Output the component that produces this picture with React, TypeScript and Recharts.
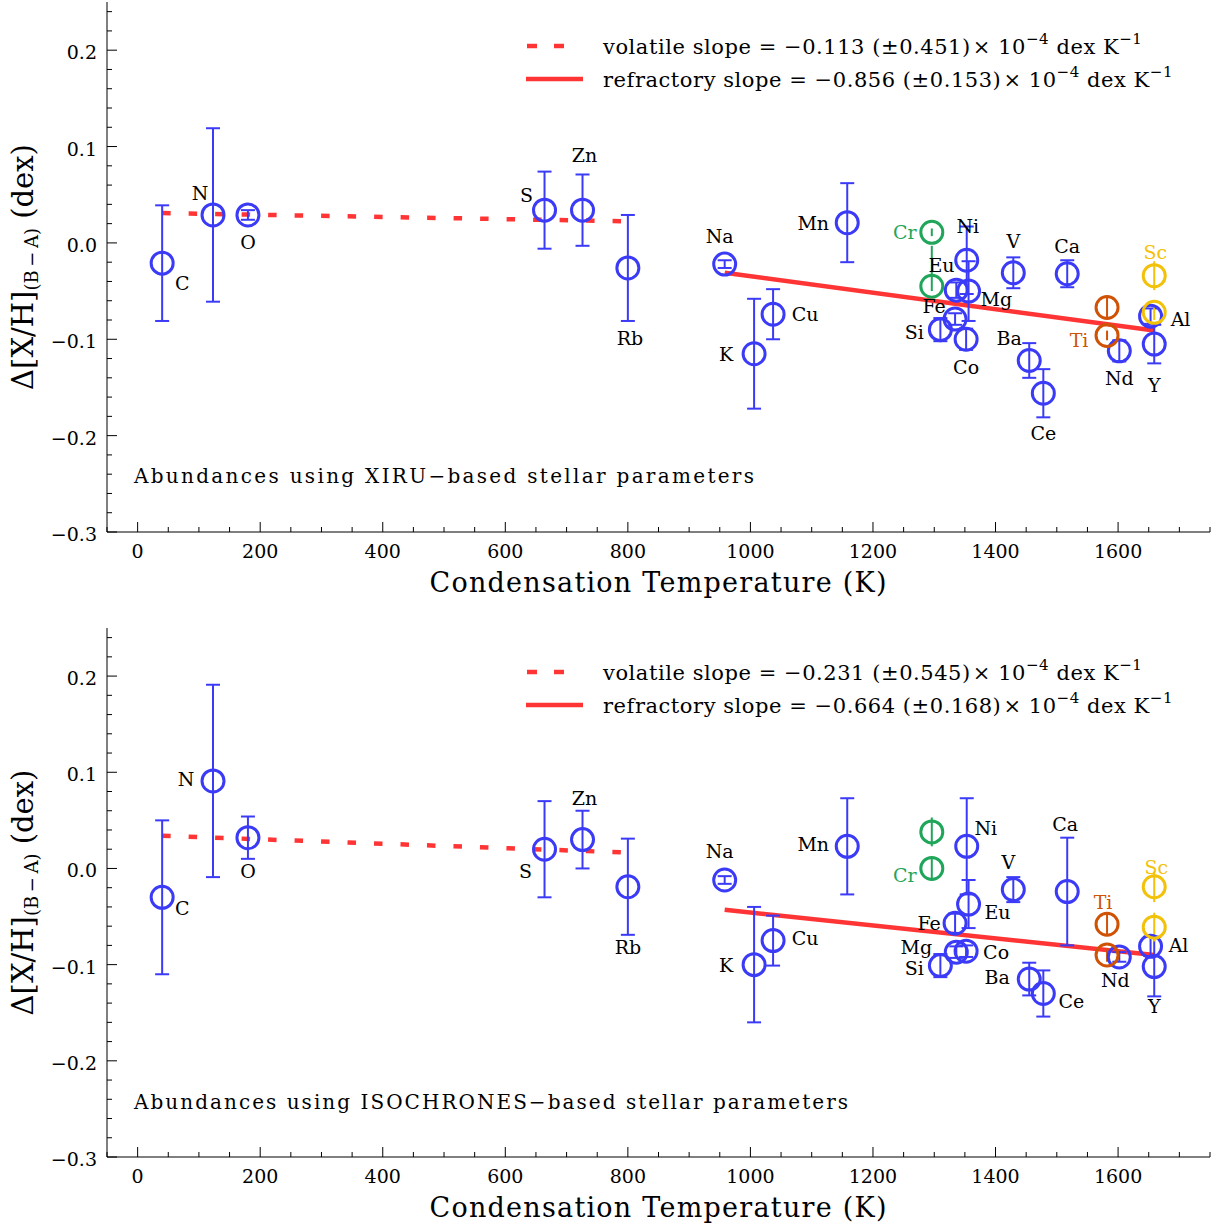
import React from 'react';
import { ScatterChart, Scatter, XAxis, YAxis, ErrorBar, ReferenceLine } from 'recharts';

const FONT = '"DejaVu Serif", "Liberation Serif", serif';
const BLUE = '#3b3bf7';
const GREEN = '#1fa65a';
const ORANGE = '#cf5205';
const YELLOW = '#f2c20a';
const RED = '#ff3535';

// ---------- data ----------
const blueElements = ['C', 'N', 'O', 'S', 'Zn', 'Rb', 'Na', 'K', 'Cu', 'Mn', 'Si', 'Fe', 'Mg', 'Co', 'Ni', 'Eu', 'V', 'Ba', 'Ce', 'Ca', 'Nd', 'Al', 'Y'];
const blueTc = [40, 123, 180, 664, 726, 800, 958, 1006, 1037, 1158, 1310, 1334, 1336, 1352, 1353, 1356, 1429, 1455, 1478, 1517, 1602, 1653, 1659];

const xiruBlue = [-0.021, 0.029, 0.029, 0.034, 0.034, -0.026, -0.022, -0.115, -0.074, 0.021, -0.090, -0.079, -0.049, -0.100, -0.018, -0.050, -0.031, -0.122, -0.156, -0.032, -0.112, -0.076, -0.105];
const xiruBlueErr = [0.06, 0.09, 0.005, 0.04, 0.037, 0.055, 0.004, 0.057, 0.026, 0.041, 0.012, 0.006, 0.008, 0.011, 0.035, 0.031, 0.016, 0.018, 0.025, 0.014, 0.011, 0.008, 0.02];

const isoBlue = [-0.030, 0.091, 0.032, 0.020, 0.030, -0.019, -0.012, -0.100, -0.075, 0.023, -0.101, -0.057, -0.087, -0.086, 0.023, -0.037, -0.022, -0.115, -0.130, -0.024, -0.092, -0.081, -0.102];
const isoBlueErr = [0.08, 0.10, 0.022, 0.05, 0.03, 0.05, 0.004, 0.06, 0.026, 0.05, 0.012, 0.01, 0.006, 0.006, 0.05, 0.025, 0.013, 0.017, 0.024, 0.056, 0.005, 0.01, 0.031];

const ionStages = ['I', 'II'];
const crTc = [1296, 1296];
const tiTc = [1582, 1582];
const scTc = [1659, 1659];

const xiruCr = [0.011, -0.045];
const xiruCrErr: (number | number[])[] = [0.004, [0.005, 0.042]];
const xiruTi = [-0.067, -0.096];
const xiruTiErr: (number | number[])[] = [0.012, 0.005];
const xiruSc = [-0.034, -0.072];
const xiruScErr: (number | number[])[] = [0.015, 0.008];

const isoCr = [0.038, 0.0];
const isoCrErr: (number | number[])[] = [0.015, 0.012];
const isoTi = [-0.058, -0.090];
const isoTiErr: (number | number[])[] = [0.012, 0.007];
const isoSc = [-0.019, -0.061];
const isoScErr: (number | number[])[] = [0.016, 0.015];

// fitted trends: [start, end]
const volatileTcRange = [40, 800];
const refractoryTcRange = [958, 1659];
const xiruVolatileFit = [0.031, 0.0224];
const xiruRefractoryFit = [-0.031, -0.091];
const isoVolatileFit = [0.034, 0.0165];
const isoRefractoryFit = [-0.043, -0.090];

const xiruLegend = ['\u22120.113', '\u00b10.451', '\u22120.856', '\u00b10.153'];
const isoLegend = ['\u22120.231', '\u00b10.545', '\u22120.664', '\u00b10.168'];

const xMajor = [0, 200, 400, 600, 800, 1000, 1200, 1400, 1600];
const xMinor = [-50, 50, 100, 150, 250, 300, 350, 450, 500, 550, 650, 700, 750, 850, 900, 950, 1050, 1100, 1150, 1250, 1300, 1350, 1450, 1500, 1550, 1650, 1700, 1750];
const yMajor = [-0.3, -0.2, -0.1, 0.0, 0.1, 0.2];
const yMinor = [-0.28, -0.26, -0.24, -0.22, -0.18, -0.16, -0.14, -0.12, -0.08, -0.06, -0.04, -0.02, 0.02, 0.04, 0.06, 0.08, 0.12, 0.14, 0.16, 0.18, 0.22, 0.24];
const xTicks = [...xMajor, ...xMinor].sort((a, b) => a - b);
const yTicks = [...yMajor, ...yMinor].sort((a, b) => a - b);

// ---------- label placement (pixel offsets from the marker) ----------
const xiruLabelPos: Record<string, [number, number]> = {
  C: [20, 20], N: [-13, -22], O: [0, 27], S: [-18, -15], Zn: [2, -55], Rb: [2, 70],
  Na: [-5, -28], K: [-28, 0], Cu: [32, 0], Mn: [-34, 0], 'Cr I': [-27, 0],
  Ni: [1, -34], Eu: [-27, -26], Mg: [40, 9], Fe: [-21, -13], Si: [-26, 2], Co: [0, 28],
  V: [0, -32], Ca: [0, -28], Ba: [-20, -22], Ce: [0, 40], 'Ti II': [-28, 5], Nd: [0, 27],
  'Sc I': [1, -24], Al: [30, 3], Y: [0, 41],
};
const isoLabelPos: Record<string, [number, number]> = {
  C: [20, 11], N: [-27, -2], O: [0, 33], S: [-19, 22], Zn: [2, -42], Rb: [0, 60],
  Na: [-5, -29], K: [-28, 0], Cu: [32, -3], Mn: [-34, -2], 'Cr II': [-27, 7],
  Ni: [19, -18], Eu: [29, 8], Fe: [-26, 0], Mg: [-40, -5], Co: [30, 1], Si: [-26, 2],
  V: [-5, -28], Ca: [-2, -68], Ba: [-32, -2], Ce: [28, 8], 'Ti I': [-4, -22], Nd: [-4, 23],
  'Sc I': [2, -20], Al: [28, -1], Y: [0, 39],
};

type Pt = { T: number; v: number; err: number | number[]; name: string; key: string };

const buildBlue = (vals: number[], errs: number[]): Pt[] =>
  blueElements.map((name, i) => ({ T: blueTc[i], v: vals[i], err: errs[i], name, key: name }));
const buildIon = (el: string, tcs: number[], vals: number[], errs: (number | number[])[]): Pt[] =>
  vals.map((v, i) => ({ T: tcs[i], v, err: errs[i], name: el, key: `${el} ${ionStages[i]}` }));

const near = (v: number, arr: number[]) => arr.some((m) => Math.abs(m - v) < 1e-6);
const fmtY = (v: number) => (Math.abs(v) < 1e-9 ? '0.0' : v.toFixed(1).replace('-', '\u2212'));

const BottomTick = (p: any) => {
  const major = near(p.payload.value, xMajor);
  return (
    <g>
      <line x1={p.x} y1={p.y} x2={p.x} y2={p.y - (major ? 10 : 5)} stroke="#000" strokeWidth={1} />
      {major && (
        <text x={p.x} y={p.y + 19} textAnchor="middle" dominantBaseline="central" fontFamily={FONT} fontSize={19} fill="#000">
          {p.payload.value}
        </text>
      )}
    </g>
  );
};
const TopTick = (p: any) => {
  const major = near(p.payload.value, xMajor);
  return <line x1={p.x} y1={p.y} x2={p.x} y2={p.y + (major ? 10 : 5)} stroke="#000" strokeWidth={1} />;
};
const LeftTick = (p: any) => {
  const major = near(p.payload.value, yMajor);
  return (
    <g>
      <line x1={p.x} y1={p.y} x2={p.x + (major ? 10 : 5)} y2={p.y} stroke="#000" strokeWidth={1} />
      {major && (
        <text x={p.x - 10} y={p.y + 2} textAnchor="end" dominantBaseline="central" fontFamily={FONT} fontSize={19} fill="#000">
          {fmtY(p.payload.value)}
        </text>
      )}
    </g>
  );
};
const RightTick = (p: any) => {
  const major = near(p.payload.value, yMajor);
  return <line x1={p.x} y1={p.y} x2={p.x - (major ? 10 : 5)} y2={p.y} stroke="#000" strokeWidth={1} />;
};

const makeShape = (color: string, labelColor: string, pos: Record<string, [number, number]>) => (props: any) => {
  const { cx, cy, payload } = props;
  if (cx == null || cy == null) return <g />;
  const off = pos[payload.key];
  return (
    <g>
      <circle cx={cx} cy={cy} r={11} fill="none" stroke={color} strokeWidth={3} />
      {off && (
        <text x={cx + off[0]} y={cy + off[1]} textAnchor="middle" dominantBaseline="central" fontFamily={FONT} fontSize={19} fill={labelColor}>
          {payload.name}
        </text>
      )}
    </g>
  );
};

type PanelProps = {
  height: number;
  blue: Pt[];
  cr: Pt[];
  ti: Pt[];
  sc: Pt[];
  volFit: number[];
  refFit: number[];
  pos: Record<string, [number, number]>;
  note: string;
  noteWidth: number;
  legend: string[];
};

const LegendText = ({ x, y, label, slope, err }: any) => (
  <text x={x} y={y} dominantBaseline="central" fontFamily={FONT} fontSize={21} letterSpacing={0.55} fill="#000">
    {`${label} slope = ${slope} (${err})`}
    <tspan dx={2}>{'\u00d7 10'}</tspan>
    <tspan dy={-8} fontSize={15}>{'\u22124'}</tspan>
    <tspan dy={8}>{' dex K'}</tspan>
    <tspan dy={-8} fontSize={15}>{'\u22121'}</tspan>
  </text>
);

function Panel(props: PanelProps) {
  const { height, blue, cr, ti, sc, volFit, refFit, pos, note, noteWidth, legend } = props;
  const plotTop = 2;
  const plotBottom = height - 94;
  const midY = (plotTop + plotBottom) / 2;
  return (
    <div style={{ position: 'relative', width: 1222, height }}>
      <ScatterChart width={1222} height={height} margin={{ top: 2, right: 12, bottom: 0, left: 0 }}>
        <XAxis xAxisId="b" type="number" dataKey="T" domain={[-50, 1750]} allowDataOverflow ticks={xTicks} interval={0}
          tick={BottomTick} tickLine={false} tickSize={0} tickMargin={0} height={94} axisLine={{ stroke: '#000', strokeWidth: 1 }} />
        <XAxis xAxisId="t" orientation="top" type="number" dataKey="T" domain={[-50, 1750]} allowDataOverflow ticks={xTicks} interval={0}
          tick={TopTick} tickLine={false} tickSize={0} tickMargin={0} height={0} axisLine={{ stroke: '#000', strokeWidth: 1 }} />
        <YAxis yAxisId="l" type="number" dataKey="v" domain={[-0.3, 0.25]} allowDataOverflow ticks={yTicks} interval={0}
          tick={LeftTick} tickLine={false} tickSize={0} tickMargin={0} width={107} axisLine={{ stroke: '#000', strokeWidth: 1 }} />
        <YAxis yAxisId="r" orientation="right" type="number" dataKey="v" domain={[-0.3, 0.25]} allowDataOverflow ticks={yTicks} interval={0}
          tick={RightTick} tickLine={false} tickSize={0} tickMargin={0} width={0} axisLine={{ stroke: '#000', strokeWidth: 1 }} />

        <ReferenceLine xAxisId="b" yAxisId="l"
          segment={[{ x: volatileTcRange[0], y: volFit[0] }, { x: volatileTcRange[1], y: volFit[1] }]}
          stroke={RED} strokeWidth={4.5} strokeDasharray="8.5 18" />
        <ReferenceLine xAxisId="b" yAxisId="l"
          segment={[{ x: refractoryTcRange[0], y: refFit[0] }, { x: refractoryTcRange[1], y: refFit[1] }]}
          stroke={RED} strokeWidth={4.5} />

        <Scatter xAxisId="b" yAxisId="l" data={blue} dataKey="v" isAnimationActive={false} shape={makeShape(BLUE, '#000', pos)}>
          <ErrorBar dataKey="err" direction="y" width={7} strokeWidth={2} stroke={BLUE} isAnimationActive={false} />
        </Scatter>
        <Scatter xAxisId="b" yAxisId="l" data={cr} dataKey="v" isAnimationActive={false} shape={makeShape(GREEN, GREEN, pos)}>
          <ErrorBar dataKey="err" direction="y" width={0} strokeWidth={2} stroke={GREEN} isAnimationActive={false} />
        </Scatter>
        <Scatter xAxisId="b" yAxisId="l" data={ti} dataKey="v" isAnimationActive={false} shape={makeShape(ORANGE, ORANGE, pos)}>
          <ErrorBar dataKey="err" direction="y" width={0} strokeWidth={2} stroke={ORANGE} isAnimationActive={false} />
        </Scatter>
        <Scatter xAxisId="b" yAxisId="l" data={sc} dataKey="v" isAnimationActive={false} shape={makeShape(YELLOW, YELLOW, pos)}>
          <ErrorBar dataKey="err" direction="y" width={0} strokeWidth={2} stroke={YELLOW} isAnimationActive={false} />
        </Scatter>
      </ScatterChart>

      <svg width={1222} height={height} style={{ position: 'absolute', left: 0, top: 0, pointerEvents: 'none' }}>
        {/* legend */}
        <line x1={527} y1={46} x2={537} y2={46} stroke={RED} strokeWidth={4.5} />
        <line x1={554} y1={46} x2={564} y2={46} stroke={RED} strokeWidth={4.5} />
        <LegendText x={603} y={47} label="volatile" slope={legend[0]} err={legend[1]} />
        <line x1={526} y1={79} x2={583} y2={79} stroke={RED} strokeWidth={4.5} />
        <LegendText x={603} y={80} label="refractory" slope={legend[2]} err={legend[3]} />

        {/* note */}
        <text x={134} y={476} dominantBaseline="central" fontFamily={FONT} fontSize={20} fill="#000"
          textLength={noteWidth} lengthAdjust="spacing">{note}</text>

        {/* axis titles */}
        <text x={658} y={plotBottom + 50} textAnchor="middle" dominantBaseline="central" fontFamily={FONT} fontSize={27} fill="#000"
          textLength={457} lengthAdjust="spacing">
          Condensation Temperature (K)
        </text>
        <text transform={`translate(23, ${midY}) rotate(-90)`} textAnchor="middle" dominantBaseline="central" fontFamily={FONT} fontSize={29} fill="#000">
          {'\u0394[X/H]'}
          <tspan dy={8} fontSize={18}>{'(B\u2009\u2212\u2009A)'}</tspan>
          <tspan dy={-8}>{' (dex)'}</tspan>
        </text>
      </svg>
    </div>
  );
}

export default function App() {
  return (
    <div style={{ position: 'absolute', left: 0, top: 0, width: 1222, height: 1228, background: '#fff' }}>
      <Panel
        height={626}
        blue={buildBlue(xiruBlue, xiruBlueErr)}
        cr={buildIon('Cr', crTc, xiruCr, xiruCrErr)}
        ti={buildIon('Ti', tiTc, xiruTi, xiruTiErr)}
        sc={buildIon('Sc', scTc, xiruSc, xiruScErr)}
        volFit={xiruVolatileFit}
        refFit={xiruRefractoryFit}
        pos={xiruLabelPos}
        note={'Abundances using XIRU\u2212based stellar parameters'}
        noteWidth={620}
        legend={xiruLegend}
      />
      <Panel
        height={625}
        blue={buildBlue(isoBlue, isoBlueErr)}
        cr={buildIon('Cr', crTc, isoCr, isoCrErr)}
        ti={buildIon('Ti', tiTc, isoTi, isoTiErr)}
        sc={buildIon('Sc', scTc, isoSc, isoScErr)}
        volFit={isoVolatileFit}
        refFit={isoRefractoryFit}
        pos={isoLabelPos}
        note={'Abundances using ISOCHRONES\u2212based stellar parameters'}
        noteWidth={714}
        legend={isoLegend}
      />
    </div>
  );
}
